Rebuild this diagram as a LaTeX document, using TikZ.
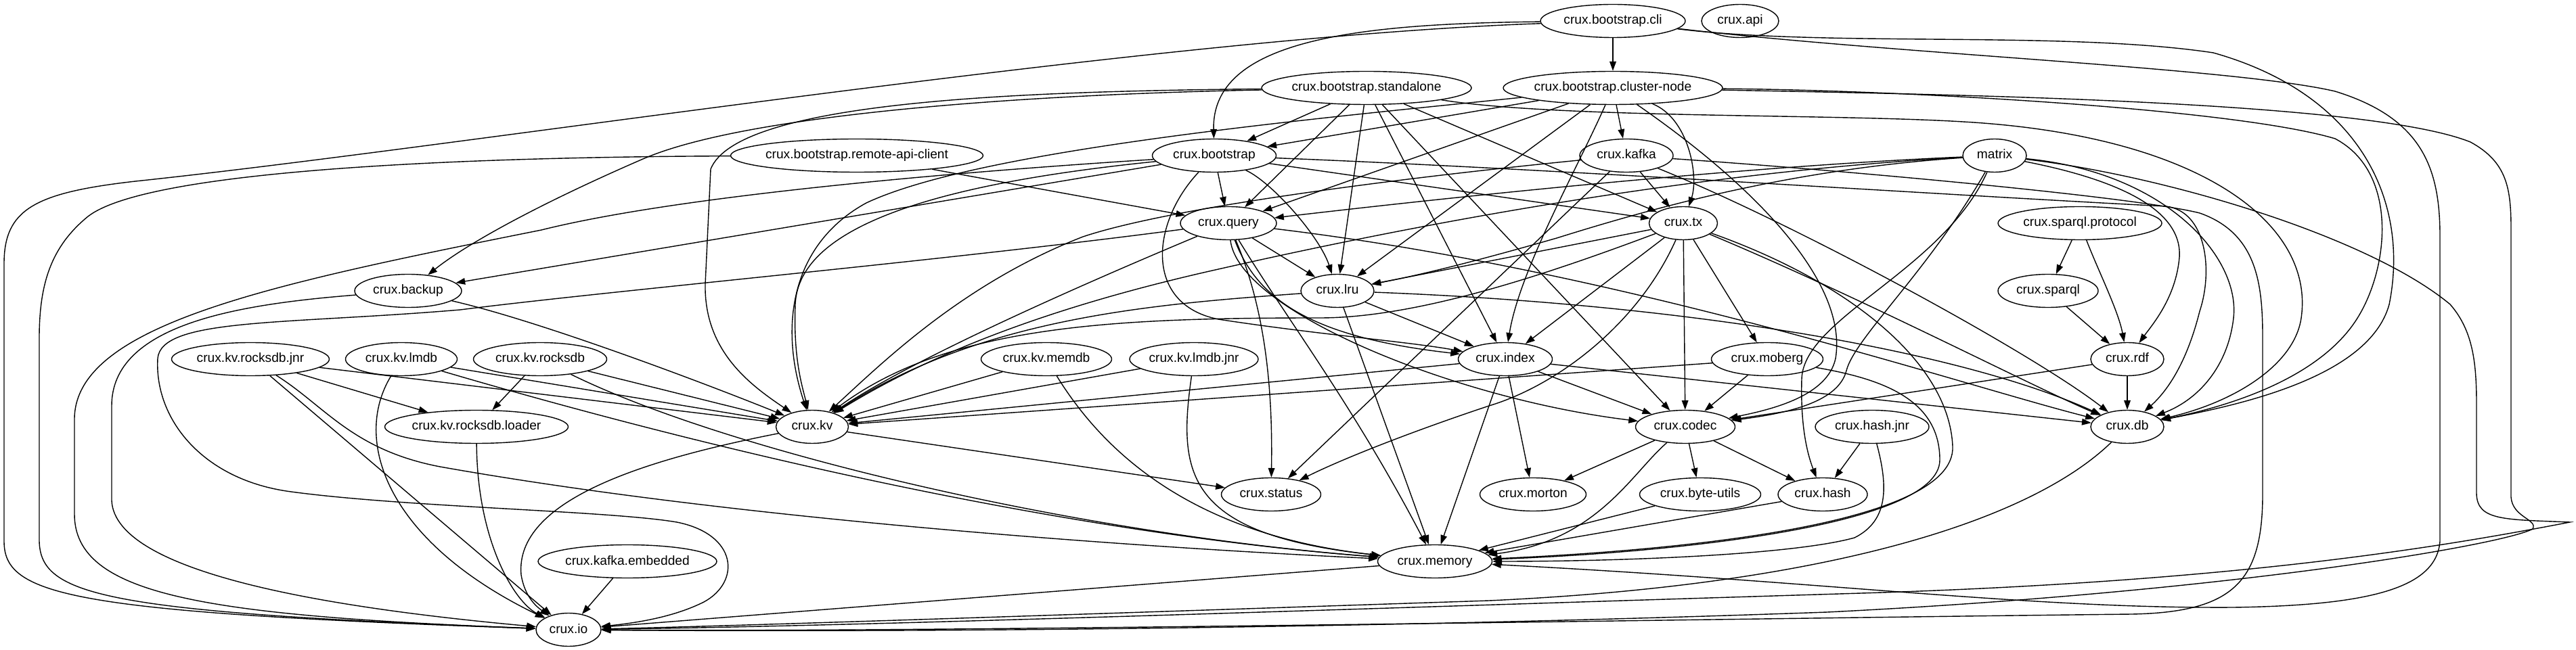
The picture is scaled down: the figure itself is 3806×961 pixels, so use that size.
\documentclass[tikz,border=0pt]{standalone}
\usepackage{fontspec}
\setmainfont{Liberation Sans}
\usetikzlibrary{shapes.geometric,arrows.meta}
\newcommand{\lbl}[1]{\makebox[0pt]{#1}}
\begin{document}
\begin{tikzpicture}[x=0.5pt,y=0.5pt,
  n/.style={draw, ellipse, line width=0.7pt, minimum height=24.5pt, inner sep=0pt,
            text height=7pt, text depth=2pt, font=\fontsize{9.6}{11}\selectfont},
  e/.style={draw, line width=0.7pt, -{Triangle[length=6.9pt,width=4.8pt]}}]
\fill[white] (0,0) rectangle (3806,-961);
\useasboundingbox (0,0) rectangle (3806,-961);
% nodes
\node[n,minimum width=107pt]   (cli)        at (2383,-31)  {\lbl{crux.bootstrap.cli}};
\node[n,minimum width=57pt]    (api)        at (2571,-31)  {\lbl{crux.api}};
\node[n,minimum width=155pt]   (standalone) at (2019,-130) {\lbl{crux.bootstrap.standalone}};
\node[n,minimum width=162pt]   (cluster)    at (2383,-130) {\lbl{crux.bootstrap.cluster-node}};
\node[n,minimum width=186.5pt] (remote)     at (1266,-230) {\lbl{crux.bootstrap.remote-api-client}};
\node[n,minimum width=91.5pt]  (bootstrap)  at (1794,-230) {\lbl{crux.bootstrap}};
\node[n,minimum width=69pt]    (kafka)      at (2403,-230) {\lbl{crux.kafka}};
\node[n,minimum width=47pt]    (matrix)     at (2947,-230) {\lbl{matrix}};
\node[n,minimum width=71pt]    (query)      at (1815,-330) {\lbl{crux.query}};
\node[n,minimum width=50.5pt]  (tx)         at (2487,-330) {\lbl{crux.tx}};
\node[n,minimum width=121pt]   (protocol)   at (3073,-330) {\lbl{crux.sparql.protocol}};
\node[n,minimum width=79pt]    (backup)     at (603,-430)  {\lbl{crux.backup}};
\node[n,minimum width=54pt]    (lru)        at (1976,-430) {\lbl{crux.lru}};
\node[n,minimum width=74pt]    (sparql)     at (3026,-430) {\lbl{crux.sparql}};
\node[n,minimum width=116.5pt] (rocksdbjnr) at (370,-531)  {\lbl{crux.kv.rocksdb.jnr}};
\node[n,minimum width=82.5pt]  (lmdb)       at (593,-531)  {\lbl{crux.kv.lmdb}};
\node[n,minimum width=98.5pt]  (rocksdb)    at (798,-531)  {\lbl{crux.kv.rocksdb}};
\node[n,minimum width=96.5pt]  (memdb)      at (1546,-531) {\lbl{crux.kv.memdb}};
\node[n,minimum width=95pt]    (lmdbjnr)    at (1764,-531) {\lbl{crux.kv.lmdb.jnr}};
\node[n,minimum width=69.5pt]  (index)      at (2224,-531) {\lbl{crux.index}};
\node[n,minimum width=82.5pt]  (moberg)     at (2611,-531) {\lbl{crux.moberg}};
\node[n,minimum width=54pt]    (rdf)        at (3143,-531) {\lbl{crux.rdf}};
\node[n,minimum width=135.5pt] (loader)     at (704,-631)  {\lbl{crux.kv.rocksdb.loader}};
\node[n,minimum width=53.5pt]  (kv)         at (1200,-631) {\lbl{crux.kv}};
\node[n,minimum width=73.5pt]  (codec)      at (2490,-631) {\lbl{crux.codec}};
\node[n,minimum width=84pt]    (hashjnr)    at (2766,-631) {\lbl{crux.hash.jnr}};
\node[n,minimum width=54pt]    (db)         at (3143,-631) {\lbl{crux.db}};
\node[n,minimum width=73.5pt]  (status)     at (1878,-731) {\lbl{crux.status}};
\node[n,minimum width=78.5pt]  (morton)     at (2265,-731) {\lbl{crux.morton}};
\node[n,minimum width=89.5pt]  (byteutils)  at (2512,-731) {\lbl{crux.byte-utils}};
\node[n,minimum width=66pt]    (hash)       at (2693,-731) {\lbl{crux.hash}};
\node[n,minimum width=132pt]   (embedded)   at (927,-830)  {\lbl{crux.kafka.embedded}};
\node[n,minimum width=84.5pt]  (memory)     at (2120,-830) {\lbl{crux.memory}};
\node[n,minimum width=48pt]    (io)         at (840,-931)  {\lbl{crux.io}};

% crux.bootstrap.cli
\draw[e] (cli) -- (cluster);
\draw[e] (cli) .. controls (2000,-35) and (1790,-60) .. (bootstrap);
\draw[e] (cli) .. controls (1700,-55) and (700,-215) .. (200,-268) .. controls (50,-285) and (6,-310) .. (6,-390) -- (6,-800) .. controls (6,-880) and (100,-905) .. (io);
\draw[e] (cli) .. controls (2700,-70) and (3050,-45) .. (3270,-78) .. controls (3490,-140) and (3560,-300) .. (3530,-450) .. controls (3500,-560) and (3300,-600) .. (db);
\draw[e] (cli) .. controls (2800,-80) and (3300,-100) .. (3450,-135) .. controls (3580,-175) and (3605,-250) .. (3605,-350) -- (3605,-800) .. controls (3600,-870) and (3500,-895) .. (3300,-898) .. controls (3000,-900) and (2700,-860) .. (memory);

% crux.bootstrap.standalone
\draw[e] (standalone) -- (bootstrap);
\draw[e] (standalone) .. controls (1500,-140) and (1100,-170) .. (950,-235) .. controls (800,-300) and (690,-360) .. (backup);
\draw[e] (standalone) -- (query);
\draw[e] (standalone) -- (lru);
\draw[e] (standalone) -- (index);
\draw[e] (standalone) -- (codec);
\draw[e] (standalone) -- (tx);
\draw[e] (standalone) .. controls (1500,-135) and (1090,-150) .. (1050,-250) -- (1042,-420) .. controls (1040,-520) and (1110,-570) .. (kv);
\draw[e] (standalone) .. controls (2300,-175) and (2700,-168) .. (2900,-180) .. controls (3250,-200) and (3420,-330) .. (3400,-470) .. controls (3390,-540) and (3300,-595) .. (db);

% crux.bootstrap.cluster-node
\draw[e] (cluster) -- (bootstrap);
\draw[e] (cluster) -- (kafka);
\draw[e] (cluster) .. controls (2495,-175) and (2510,-260) .. (tx);
\draw[e] (cluster) -- (query);
\draw[e] (cluster) -- (lru);
\draw[e] (cluster) .. controls (2330,-250) and (2245,-400) .. (index);
\draw[e] (cluster) .. controls (2600,-280) and (2730,-420) .. (2712,-530) .. controls (2700,-585) and (2620,-605) .. (codec);
\draw[e] (cluster) .. controls (1950,-175) and (1450,-220) .. (1280,-300) .. controls (1170,-360) and (1150,-480) .. (kv);
\draw[e] (cluster) .. controls (2800,-133) and (3300,-160) .. (3450,-205) .. controls (3545,-255) and (3530,-400) .. (3480,-475) .. controls (3430,-550) and (3320,-595) .. (db);
\draw[e] (cluster) .. controls (2900,-140) and (3500,-150) .. (3650,-210) .. controls (3705,-240) and (3710,-280) .. (3710,-340) -- (3710,-735) .. controls (3712,-765) and (3750,-768) .. (3742,-782) .. controls (3700,-805) and (3300,-875) .. (2700,-905) .. controls (2000,-930) and (1300,-935) .. (io);

% crux.bootstrap.remote-api-client
\draw[e] (remote) -- (query);
\draw[e] (remote) .. controls (700,-232) and (220,-250) .. (130,-320) .. controls (75,-365) and (58,-420) .. (58,-500) -- (58,-800) .. controls (60,-880) and (150,-905) .. (io);

% crux.bootstrap
\draw[e] (bootstrap) -- (backup);
\draw[e] (bootstrap) -- (query);
\draw[e] (bootstrap) .. controls (1880,-270) and (1950,-350) .. (lru);
\draw[e] (bootstrap) -- (tx);
\draw[e] (bootstrap) .. controls (1700,-330) and (1690,-450) .. (1800,-472) .. controls (1950,-495) and (2080,-505) .. (index);
\draw[e] (bootstrap) .. controls (1400,-270) and (1180,-330) .. (1175,-450) .. controls (1172,-530) and (1185,-570) .. (kv);
\draw[e] (bootstrap) .. controls (1400,-255) and (1000,-290) .. (800,-340) .. controls (400,-420) and (110,-480) .. (110,-620) -- (110,-760) .. controls (110,-880) and (300,-910) .. (io);
\draw[e] (bootstrap) .. controls (2300,-250) and (2900,-290) .. (3200,-305) .. controls (3260,-312) and (3270,-400) .. (3250,-460) .. controls (3230,-540) and (3200,-580) .. (db);

% crux.kafka
\draw[e] (kafka) -- (tx);
\draw[e] (kafka) -- (status);
\draw[e] (kafka) .. controls (2150,-255) and (1750,-300) .. (1600,-350) .. controls (1420,-420) and (1300,-540) .. (kv);
\draw[e] (kafka) .. controls (2650,-330) and (3000,-520) .. (db);
\draw[e] (kafka) .. controls (2700,-250) and (3150,-290) .. (3250,-315) .. controls (3335,-345) and (3343,-420) .. (3343,-500) -- (3343,-730) .. controls (3343,-860) and (3300,-905) .. (3150,-908) .. controls (2500,-915) and (1400,-935) .. (io);

% matrix
\draw[e] (matrix) .. controls (2600,-245) and (2200,-285) .. (query);
\draw[e] (matrix) .. controls (2650,-250) and (2450,-305) .. (2300,-352) .. controls (2150,-395) and (2080,-410) .. (lru);
\draw[e] (matrix) .. controls (2500,-255) and (2100,-330) .. (1800,-398) .. controls (1500,-465) and (1340,-545) .. (kv);
\draw[e] (matrix) .. controls (2850,-400) and (2740,-500) .. (2728,-548) .. controls (2715,-598) and (2630,-612) .. (codec);
\draw[e] (matrix) .. controls (2870,-400) and (2665,-470) .. (2662,-560) .. controls (2660,-630) and (2670,-670) .. (hash);
\draw[e] (matrix) .. controls (3100,-260) and (3225,-300) .. (3220,-380) .. controls (3215,-440) and (3180,-480) .. (rdf);
\draw[e] (matrix) .. controls (3200,-255) and (3310,-380) .. (3300,-470) .. controls (3292,-540) and (3250,-590) .. (db);
\draw[e] (matrix) .. controls (3200,-260) and (3500,-350) .. (3620,-450) .. controls (3655,-490) and (3659,-540) .. (3659,-600) -- (3659,-730) .. controls (3660,-770) and (3700,-768) .. (3797,-772) .. controls (3600,-810) and (3300,-860) .. (2750,-877) .. controls (2000,-900) and (1300,-925) .. (io);

% crux.query
\draw[e] (query) -- (lru);
\draw[e] (query) .. controls (1860,-450) and (1950,-500) .. (index);
\draw[e] (query) .. controls (1600,-420) and (1350,-530) .. (kv);
\draw[e] (query) .. controls (1830,-460) and (2150,-590) .. (codec);
\draw[e] (query) .. controls (2400,-400) and (2900,-570) .. (db);
\draw[e] (query) .. controls (1875,-470) and (1880,-600) .. (status);
\draw[e] (query) .. controls (1900,-470) and (2000,-600) .. (memory);
\draw[e] (query) .. controls (1400,-385) and (900,-430) .. (680,-458) .. controls (420,-480) and (238,-470) .. (233,-530) .. controls (228,-620) and (300,-710) .. (430,-727) .. controls (600,-750) and (900,-755) .. (1000,-772) .. controls (1090,-790) and (1095,-860) .. (1040,-890) .. controls (1000,-910) and (950,-920) .. (io);

% crux.tx
\draw[e] (tx) -- (lru);
\draw[e] (tx) .. controls (2300,-400) and (2100,-470) .. (1950,-470) .. controls (1650,-470) and (1400,-480) .. (kv);
\draw[e] (tx) -- (index);
\draw[e] (tx) -- (codec);
\draw[e] (tx) .. controls (2420,-480) and (2300,-570) .. (2200,-600) .. controls (2080,-640) and (1980,-680) .. (status);
\draw[e] (tx) -- (moberg);
\draw[e] (tx) .. controls (2750,-440) and (3000,-570) .. (db);
\draw[e] (tx) .. controls (2740,-420) and (2880,-540) .. (2885,-660) .. controls (2890,-780) and (2450,-815) .. (memory);

% crux.lru
\draw[e] (lru) -- (index);
\draw[e] (lru) .. controls (1700,-450) and (1450,-470) .. (kv);
\draw[e] (lru) -- (memory);
\draw[e] (lru) .. controls (2500,-450) and (2900,-520) .. (db);

% crux.backup
\draw[e] (backup) .. controls (800,-475) and (1050,-570) .. (kv);
\draw[e] (backup) .. controls (350,-450) and (165,-480) .. (165,-600) -- (165,-740) .. controls (170,-850) and (500,-900) .. (io);

% crux.index
\draw[e] (index) -- (kv);
\draw[e] (index) -- (codec);
\draw[e] (index) -- (morton);
\draw[e] (index) -- (memory);
\draw[e] (index) -- (db);

% crux.moberg
\draw[e] (moberg) -- (kv);
\draw[e] (moberg) -- (codec);
\draw[e] (moberg) .. controls (2780,-560) and (2866,-590) .. (2866,-680) .. controls (2866,-780) and (2450,-818) .. (memory);

% sparql / rdf
\draw[e] (protocol) -- (sparql);
\draw[e] (protocol) .. controls (3100,-400) and (3130,-460) .. (rdf);
\draw[e] (sparql) -- (rdf);
\draw[e] (rdf) -- (db);
\draw[e] (rdf) -- (codec);

% kv implementations
\draw[e] (rocksdbjnr) -- (loader);
\draw[e] (rocksdbjnr) -- (kv);
\draw[e] (rocksdbjnr) -- (io);
\draw[e] (rocksdbjnr) .. controls (480,-600) and (520,-665) .. (650,-690) .. controls (1100,-770) and (1700,-810) .. (memory);
\draw[e] (lmdb) -- (kv);
\draw[e] (lmdb) .. controls (520,-650) and (570,-800) .. (io);
\draw[e] (lmdb) .. controls (1100,-680) and (1600,-790) .. (memory);
\draw[e] (rocksdb) -- (loader);
\draw[e] (rocksdb) -- (kv);
\draw[e] (rocksdb) .. controls (1080,-670) and (1600,-790) .. (memory);
\draw[e] (memdb) -- (kv);
\draw[e] (memdb) .. controls (1650,-700) and (1800,-795) .. (memory);
\draw[e] (lmdbjnr) -- (kv);
\draw[e] (lmdbjnr) .. controls (1740,-700) and (1750,-790) .. (memory);
\draw[e] (loader) .. controls (705,-800) and (760,-890) .. (io);

% crux.kv
\draw[e] (kv) -- (status);
\draw[e] (kv) .. controls (950,-680) and (760,-740) .. (770,-850) .. controls (775,-880) and (790,-895) .. (io);

% crux.codec and below
\draw[e] (codec) -- (morton);
\draw[e] (codec) -- (byteutils);
\draw[e] (codec) -- (hash);
\draw[e] (codec) .. controls (2410,-700) and (2360,-800) .. (memory);
\draw[e] (hashjnr) -- (hash);
\draw[e] (hashjnr) .. controls (2790,-720) and (2790,-770) .. (2740,-795) .. controls (2650,-820) and (2400,-830) .. (memory);
\draw[e] (hash) -- (memory);
\draw[e] (byteutils) -- (memory);
\draw[e] (memory) -- (io);
\draw[e] (db) .. controls (3000,-770) and (2700,-865) .. (2200,-888) .. controls (1600,-908) and (1100,-925) .. (io);
\draw[e] (embedded) -- (io);
\end{tikzpicture}
\end{document}
